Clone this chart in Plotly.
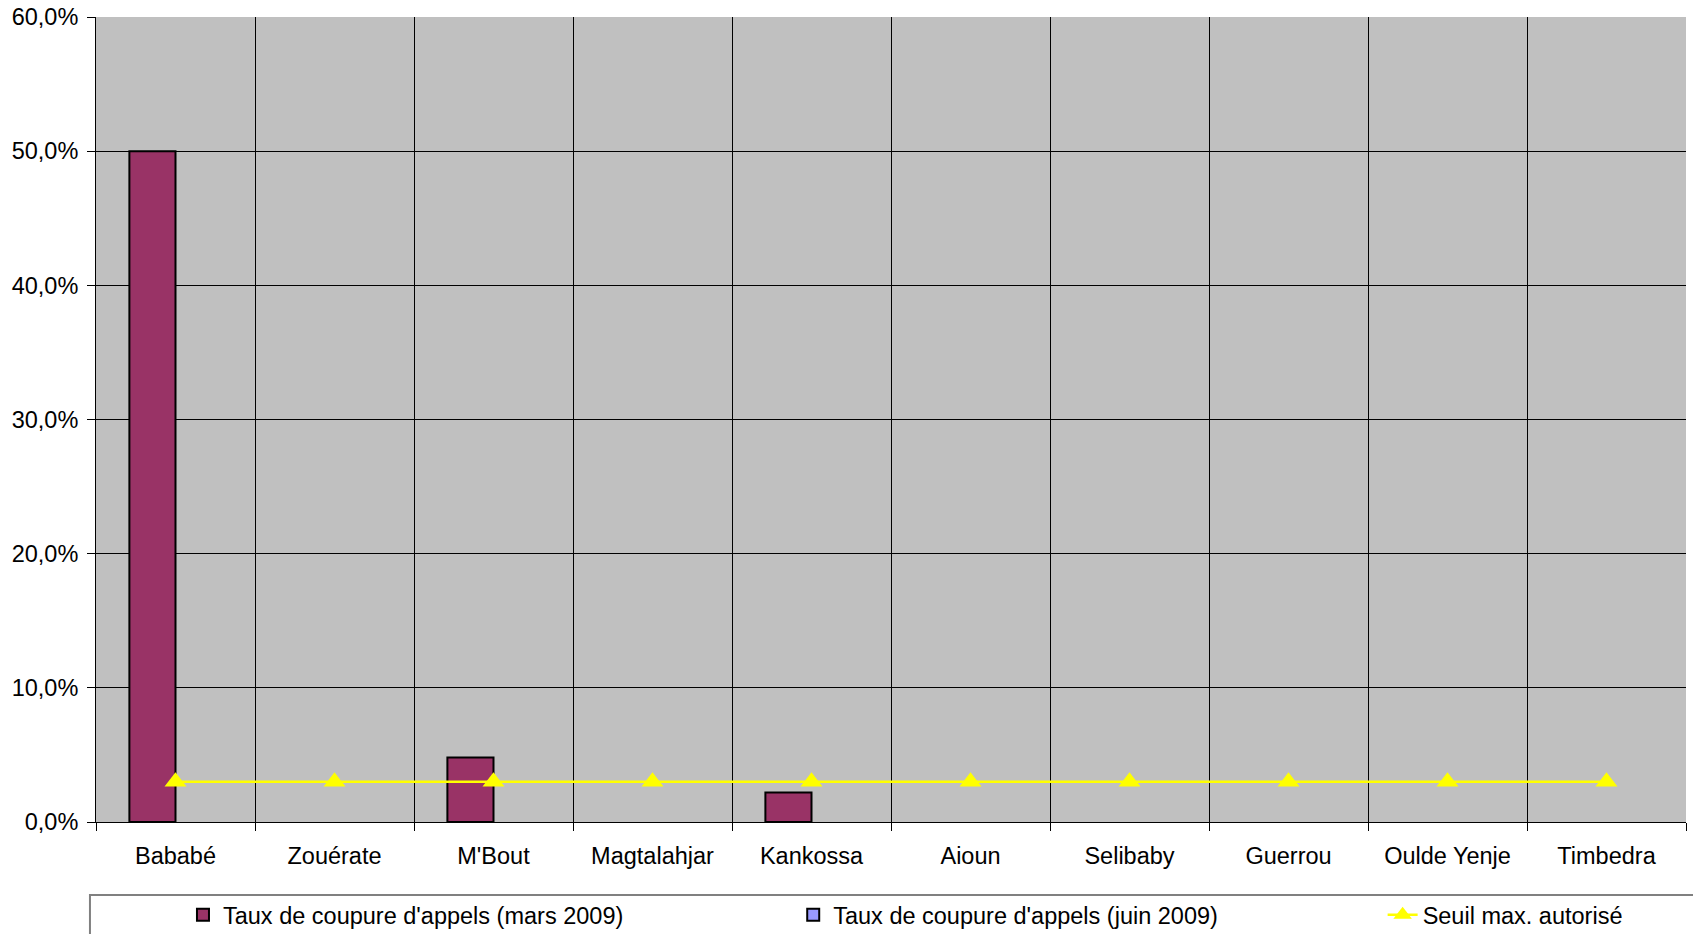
import plotly.graph_objects as go

# Sites and call-drop rates
sites = ['Bababé', 'Zouérate', "M'Bout", 'Magtalahjar', 'Kankossa',
         'Aioun', 'Selibaby', 'Guerrou', 'Oulde Yenje', 'Timbedra']
mars_2009 = [0.50, None, 0.048, None, 0.022, None, None, None, None, None]
juin_2009 = [None] * 10
seuil_max = [0.03] * 10

FONT = 'Liberation Sans, Arial, sans-serif'
FS = 23.5

fig = go.Figure()
fig.add_trace(go.Bar(
    x=sites, y=mars_2009, name="Taux de coupure d'appels (mars 2009)",
    marker=dict(color='#993366', line=dict(color='black', width=2)),
    legend='legend',
))
fig.add_trace(go.Bar(
    x=sites, y=juin_2009, name="Taux de coupure d'appels (juin 2009)",
    marker=dict(color='#9999FF', line=dict(color='black', width=2)),
    legend='legend2',
))
fig.add_trace(go.Scatter(
    x=sites, y=seuil_max, name='Seuil max. autorisé', mode='lines+markers',
    line=dict(color='#FFFF00', width=2.5),
    marker=dict(symbol='triangle-up', size=19, color='#FFFF00'),
    legend='legend3',
))

# legend frame across the bottom
fig.add_shape(type='rect', xref='paper', yref='paper',
              x0=-0.0038, x1=1.01, y0=-0.0906, y1=-0.2,
              line=dict(color='#808080', width=2), fillcolor='white', layer='below')


def leg(x):
    # container-anchored so the legends don't push the margins around
    return dict(orientation='h', x=x, xanchor='left', y=0.0203, yanchor='middle',
                yref='container', font=dict(size=FS), bgcolor='rgba(0,0,0,0)')


fig.update_layout(
    width=1693, height=934,
    margin=dict(l=96, r=7, t=17, b=112),
    paper_bgcolor='white', plot_bgcolor='#C0C0C0',
    font=dict(family=FONT, size=FS, color='black'),
    separators=', ',
    barmode='group', bargap=0.42, bargroupgap=0,
    showlegend=True,
    legend=leg(0.0547), legend2=leg(0.4385), legend3=leg(0.8092),
    xaxis=dict(type='category', range=[-0.5, 9.5], tickson='boundaries',
               showgrid=True, gridcolor='black', gridwidth=1, ticks='outside',
               ticklen=8, tickcolor='black', ticklabelstandoff=13,
               showline=True, linecolor='black', linewidth=1, zeroline=False,
               tickfont=dict(size=FS), automargin=False),
    yaxis=dict(range=[0, 0.6], dtick=0.1, tickformat='.1%', showgrid=True,
               gridcolor='black', gridwidth=1, ticks='outside', ticklen=8,
               tickcolor='black', ticklabelstandoff=4,
               showline=True, linecolor='black', linewidth=1,
               zeroline=False, tickfont=dict(size=FS), automargin=False),
)

# drop the default 8px body margin so the figure fills the window exactly
fig.write_html('out.html', config={'displayModeBar': False}, post_script=(
    "document.body.style.margin='0';document.body.style.overflow='hidden';"))
